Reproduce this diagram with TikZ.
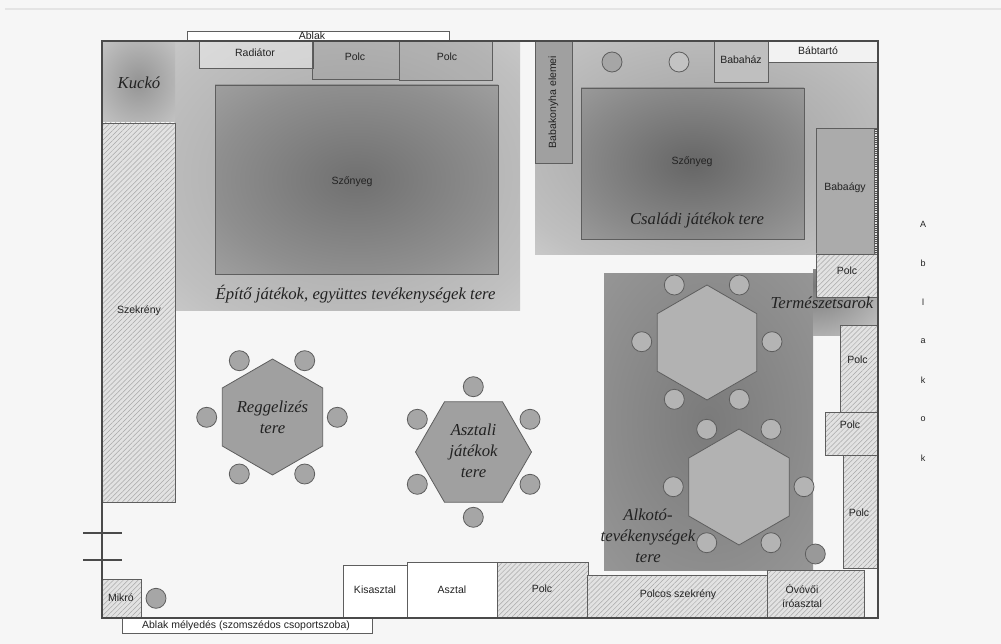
\documentclass[tikz,border=0pt]{standalone}
\usepackage{fontspec}
\setmainfont{Liberation Serif}
\setsansfont{Liberation Sans}
\usetikzlibrary{shapes.geometric,patterns.meta}
\definecolor{bgc}{HTML}{F6F6F6}
\definecolor{wallc}{HTML}{4A4A4A}
\definecolor{edgec}{HTML}{5E5E5E}
\definecolor{hatchbg}{HTML}{E2E2E2}
\definecolor{hatchln}{HTML}{A8A8A8}
\definecolor{chairc}{HTML}{A6A6A6}
\definecolor{chairlt}{HTML}{B4B4B4}
\definecolor{hexc}{HTML}{A0A0A0}
\definecolor{hexlt}{HTML}{B2B2B2}
\definecolor{txtc}{HTML}{222222}
\definecolor{topline}{HTML}{E4E4E4}
\pgfdeclareradialshading{zoneA}{\pgfpoint{0bp}{0bp}}{rgb(0bp)=(0.64,0.64,0.64); rgb(30bp)=(0.75,0.75,0.75); rgb(50bp)=(0.86,0.86,0.86); rgb(71bp)=(0.94,0.94,0.94)}
\pgfdeclareradialshading{rugA}{\pgfpoint{0bp}{0bp}}{rgb(0bp)=(0.44,0.44,0.44); rgb(25bp)=(0.56,0.56,0.56); rgb(50bp)=(0.71,0.71,0.71); rgb(71bp)=(0.77,0.77,0.77)}
\pgfdeclareradialshading{zoneB}{\pgfpoint{0bp}{0bp}}{rgb(0bp)=(0.62,0.62,0.62); rgb(30bp)=(0.75,0.75,0.75); rgb(50bp)=(0.89,0.89,0.89); rgb(71bp)=(0.98,0.98,0.98)}
\pgfdeclareradialshading{rugB}{\pgfpoint{0bp}{0bp}}{rgb(0bp)=(0.40,0.40,0.40); rgb(25bp)=(0.54,0.54,0.54); rgb(50bp)=(0.69,0.69,0.69); rgb(71bp)=(0.75,0.75,0.75)}
\pgfdeclareradialshading{zoneK}{\pgfpoint{0bp}{0bp}}{rgb(0bp)=(0.58,0.58,0.58); rgb(50bp)=(0.84,0.84,0.84); rgb(71bp)=(0.94,0.94,0.94)}
\pgfdeclareradialshading{zoneC}{\pgfpoint{0bp}{0bp}}{rgb(0bp)=(0.48,0.48,0.48); rgb(50bp)=(0.63,0.63,0.63); rgb(71bp)=(0.70,0.70,0.70)}
\pgfdeclareradialshading{zoneT}{\pgfpoint{0bp}{0bp}}{rgb(0bp)=(0.47,0.47,0.47); rgb(50bp)=(0.90,0.90,0.90); rgb(71bp)=(0.96,0.96,0.96)}
\begin{document}
\begin{tikzpicture}[x=1pt,y=-1pt,
  wall/.style={draw=wallc, line width=1.1pt},
  box/.style={draw=edgec, line width=0.8pt},
  hatch/.style={box, preaction={fill=hatchbg}, pattern={Lines[angle=45,distance=3.5pt,line width=0.5pt]}, pattern color=hatchln},
  lbl/.style={font=\sffamily\fontsize{10.5}{12}\selectfont, text=txtc, inner sep=0pt},
  smlbl/.style={font=\sffamily\fontsize{9}{11}\selectfont, text=txtc, inner sep=0pt},
  zlbl/.style={font=\fontsize{16.7}{21}\selectfont\itshape, text=txtc, align=center, inner sep=0pt},
  chair/.style={circle, draw=edgec, fill=chairc, minimum size=20pt, inner sep=0pt, line width=0.8pt},
  hexp/.style={regular polygon, regular polygon sides=6, draw=edgec, line width=0.8pt, inner sep=0pt}
]
\useasboundingbox (0,0) rectangle (1001,644);
\fill[bgc] (0,0) rectangle (1001,644);
\draw[topline, line width=1.5pt] (5,9) -- (1001,9);

% zones
\shade[shading=zoneA] (175,41) rectangle (520,310);
\shade[shading=zoneB] (535,41) rectangle (878,255);
\shade[shading=zoneK] (102,41) rectangle (175,122);
\shade[shading=zoneC] (604,274) rectangle (813,570);
\begin{scope}
\clip (813,270) rectangle (878,335);
\shade[shading=zoneT] (748,235) rectangle (878,335);
\end{scope}

% rugs
\shade[shading=rugA] (215,85) rectangle (498,274);
\draw[box] (215,85) rectangle (498,274);
\node[lbl] (rug1) at (352,182) {Szőnyeg};
\shade[shading=rugB] (581,88) rectangle (804,239);
\draw[box] (581,88) rectangle (804,239);
\node[lbl] (rug2) at (692,162) {Szőnyeg};

% top furniture
\draw[box, fill=white] (187,31) rectangle (449,41);
\node[lbl] (ablak) at (312,35.5) {Ablak};
\draw[box, fill=white, fill opacity=0.4] (199,41) rectangle (313,68);
\node[lbl] (rad) at (255,53) {Radiátor};
\draw[box, fill=black, fill opacity=0.06] (312,41) rectangle (399,79);
\node[lbl] (polc1) at (355,57) {Polc};
\draw[box, fill=black, fill opacity=0.06] (399,41) rectangle (492,80);
\node[lbl] (polc2) at (447,57) {Polc};

\draw[box, fill=hexc] (535,41) rectangle (572,163);
\node[lbl, rotate=90] (bkony) at (553.5,102) {Babakonyha elemei};
\node[chair, fill=chairc] (tc1) at (612,62) {};
\node[chair, fill=chairlt!80!white] (tc2) at (679,62) {};
\draw[box, fill=black!25] (714,41) rectangle (768,82);
\node[lbl] (bhaz) at (741,60) {Babaház};
\draw[box, fill=black!5] (768,41) rectangle (878,62);
\node[lbl] (btart) at (818,51) {Bábtartó};
\draw[box, fill=black!33] (816,128) rectangle (874,254);
\node[lbl] (bagy) at (845,188) {Babaágy};
\draw[box, fill=black!10] (874,128) rectangle (878,254);
\draw[black!70, line width=2pt, dash pattern=on 1pt off 1.2pt] (876,129) -- (876,253);
\draw[hatch] (816,254) rectangle (878,297);
\node[lbl] (polc3) at (847,271) {Polc};

% left side
\node[zlbl] (kucko) at (139,83) {Kuckó};
\draw[hatch] (102,123) rectangle (175,502);
\node[lbl] (szekr) at (139,311) {Szekrény};
\draw[hatch] (102,579) rectangle (141,618);
\node[lbl] (mikro) at (121,598) {Mikró};
\node[chair] (mc) at (156,598.3) {};

% right side shelves
\draw[hatch] (840,325) rectangle (877,412);
\node[lbl] (polc4) at (857.5,360) {Polc};
\draw[hatch] (825,412) rectangle (877,455);
\node[lbl] (polc5) at (850,425) {Polc};
\draw[hatch] (843,455) rectangle (877,568);
\node[lbl] (polc6) at (859,513) {Polc};

% bottom furniture
\draw[box, fill=white] (343,565) rectangle (407,618);
\node[lbl] (kisaszt) at (375,590) {Kisasztal};
\draw[box, fill=white] (407,562) rectangle (497,618);
\node[lbl] (asztal) at (452,590) {Asztal};
\draw[hatch] (497,562) rectangle (588,618);
\node[lbl] (polc7) at (542,589) {Polc};
\draw[hatch] (587,575) rectangle (767,618);
\node[lbl] (polcsz) at (678,595) {Polcos szekrény};
\draw[hatch] (767,570) rectangle (864,618);
\node[lbl, align=center, font=\sffamily\fontsize{10.5}{13.5}\selectfont] (ovo) at (802,596) {Óvóvői\\íróasztal};
\draw[box, fill=white] (122,618) rectangle (372,633);
\node[lbl] (melyed) at (246,625.5) {Ablak mélyedés (szomszédos csoportszoba)};

% walls
\draw[wall] (102,41) rectangle (878,618);
\coordinate (d1a) at (83,533); \coordinate (d1b) at (122,533);
\coordinate (d2a) at (83,560); \coordinate (d2b) at (122,560);
\draw[wall] (d1a) -- (d1b);
\draw[wall] (d2a) -- (d2b);

% Reggelizes table
\node[hexp, rotate=30, fill=hexc, minimum size=116pt] (hexR) at (272.5,417) {};
\foreach \p [count=\i] in {(239.3,360.7),(304.7,360.7),(206.7,417.3),(337.3,417.3),(239.3,474),(304.7,474)}
  \node[chair] (r\i) at \p {};
\node[zlbl] (lblR) at (272.5,417) {Reggelizés\\tere};

% Asztali table
\node[hexp, fill=hexc, minimum size=116pt] (hexA) at (473.5,452) {};
\foreach \p [count=\i] in {(473.3,386.7),(473.3,517.3),(417.3,419.3),(530,419.3),(417.3,484.3),(530,484.3)}
  \node[chair] (a\i) at \p {};
\node[zlbl] (lblA) at (473.5,451) {Asztali\\játékok\\tere};

% Alkoto tables
\node[hexp, rotate=30, fill=hexlt, minimum size=115pt] (hexU) at (707,342.5) {};
\foreach \p [count=\i] in {(674.3,285),(739.3,285),(641.7,341.7),(772,341.7),(674.3,399.3),(739.3,399.3)}
  \node[chair, fill=chairlt] (u\i) at \p {};
\node[hexp, rotate=30, fill=hexlt, minimum size=116pt] (hexL) at (739,487) {};
\foreach \p [count=\i] in {(706.7,429.3),(771,429.3),(673.3,486.7),(804,486.7),(706.7,542.7),(771,542.7)}
  \node[chair, fill=chairlt] (l\i) at \p {};
\node[chair, fill=black!40] (lx) at (815.3,554) {};

% zone labels
\node[zlbl] (lblE) at (355.5,294) {Építő játékok, együttes tevékenységek tere};
\node[zlbl] (lblCs) at (697,220) {Családi játékok tere};
\node[zlbl] (lblT) at (822,303) {Természetsarok};
\node[zlbl] (lblAl) at (648,535.5) {Alkotó-\\tevékenységek\\tere};

% Ablakok
\foreach \c [count=\i] in {A,b,l,a,k,o,k}
  \node[smlbl] (w\i) at (923,185+39*\i) {\c};
\end{tikzpicture}
\end{document}
